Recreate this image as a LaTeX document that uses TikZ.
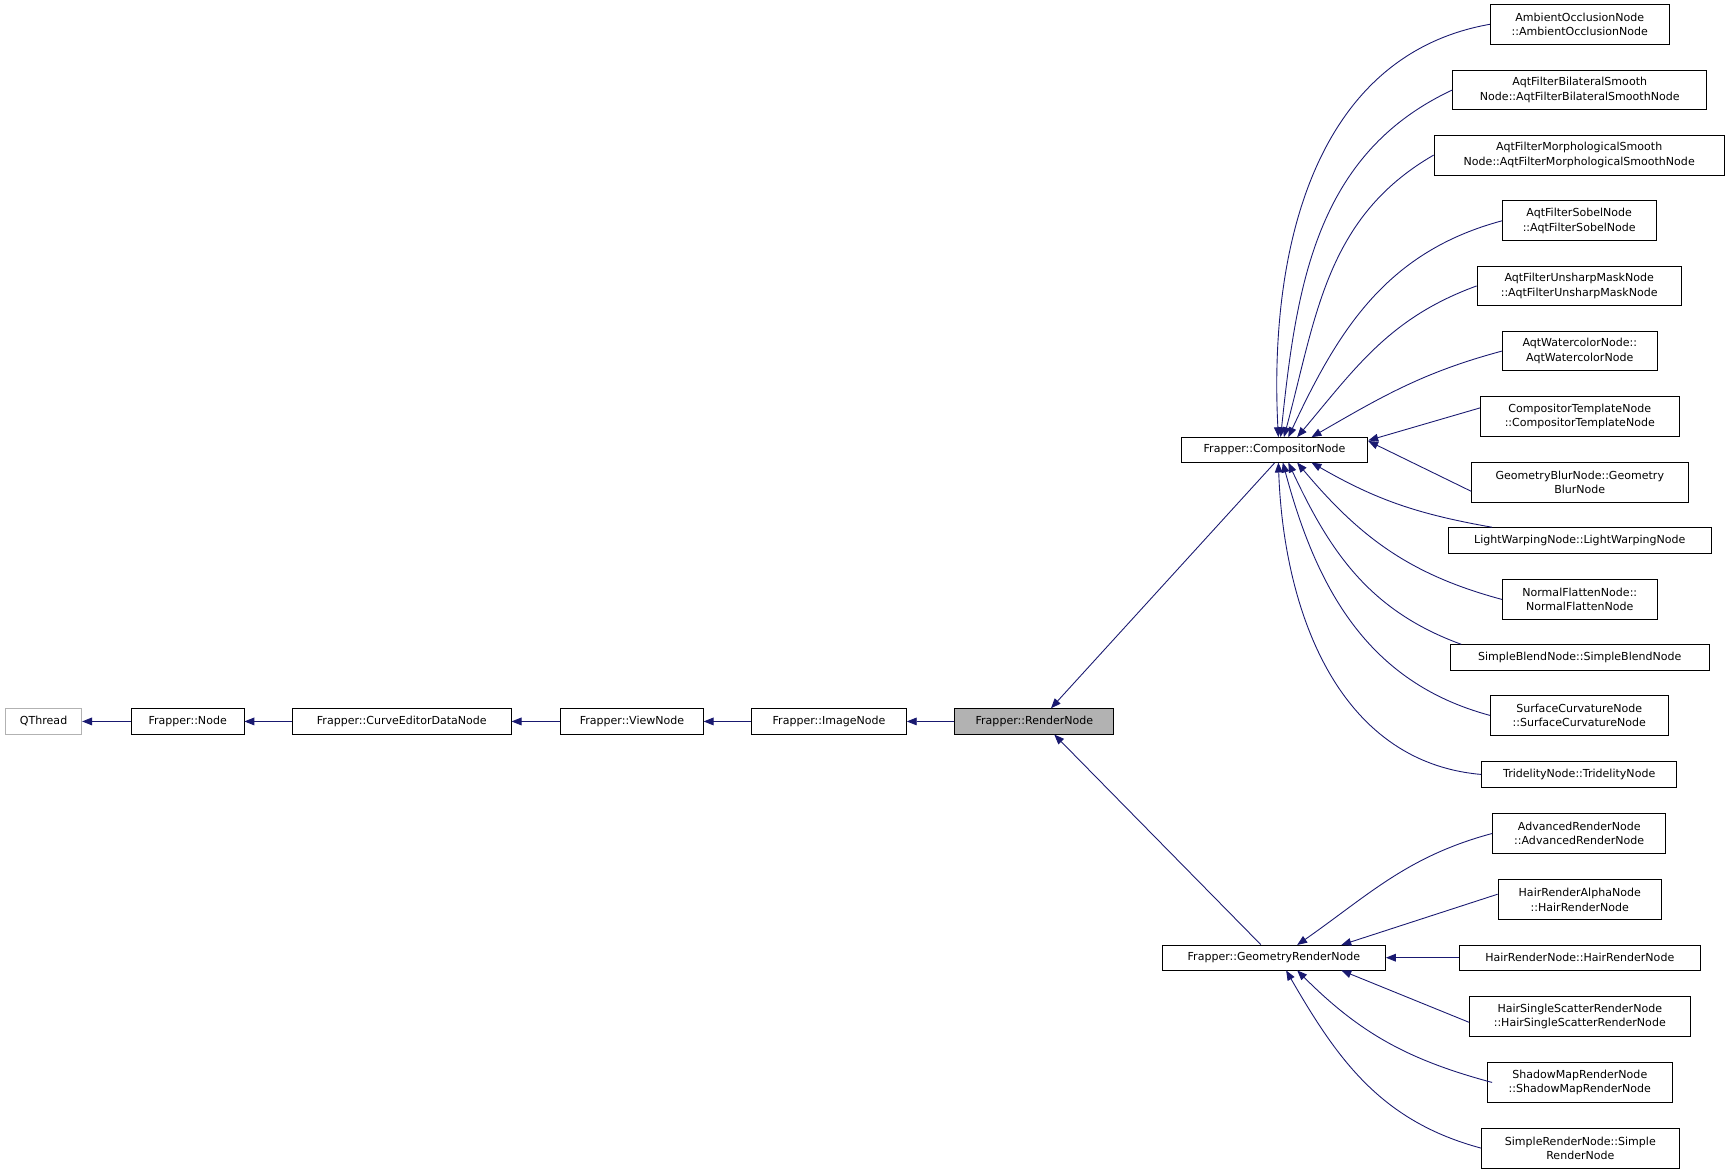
\documentclass[tikz,border=0pt]{standalone}
\usepackage{fontspec}
\setmainfont{DejaVu Sans}
\usetikzlibrary{arrows.meta}
\definecolor{edgec}{HTML}{191970}
\begin{document}
\begin{tikzpicture}[x=1pt,y=-1pt,
 box/.style={draw=black,fill=white,inner sep=0pt,align=center,font=\fontsize{10}{13}\selectfont,line width=0.8pt},
 edge/.style={draw=edgec,line width=0.8pt,{Triangle[length=9,width=7]}-}]
\useasboundingbox (0,0) rectangle (1568,1062);
\newcommand\bx[6]{\node[box,minimum width=#4,minimum height=#5] (#1) at (#2,#3) {#6};}
\node[box,draw=gray!60,minimum width=69,minimum height=23] (qt) at (39.5,653.5) {QThread};
\bx{nd}{170}{653.5}{102}{23}{Frapper::Node}
\bx{ce}{364}{653.5}{198}{23}{Frapper::CurveEditorDataNode}
\bx{vw}{572.5}{653.5}{129}{23}{Frapper::ViewNode}
\bx{im}{751}{653.5}{140}{23}{Frapper::ImageNode}
\node[box,fill=gray!60,minimum width=144,minimum height=23] (rn) at (937,653.5) {Frapper::RenderNode};
\bx{cp}{1154.5}{407.5}{169}{23}{Frapper::CompositorNode}
\bx{gr}{1154}{867.5}{202}{23}{Frapper::GeometryRenderNode}
\bx{a1}{1431}{22}{162}{36}{AmbientOcclusionNode\\::AmbientOcclusionNode}
\bx{a2}{1431}{81.5}{230}{36}{AqtFilterBilateralSmooth\\Node::AqtFilterBilateralSmoothNode}
\bx{a3}{1430.5}{140.5}{263}{36}{AqtFilterMorphologicalSmooth\\Node::AqtFilterMorphologicalSmoothNode}
\bx{a4}{1430.5}{200}{139}{36}{AqtFilterSobelNode\\::AqtFilterSobelNode}
\bx{a5}{1430.5}{259}{185}{36}{AqtFilterUnsharpMaskNode\\::AqtFilterUnsharpMaskNode}
\bx{a6}{1431}{318}{140}{36}{AqtWatercolorNode::\\AqtWatercolorNode}
\bx{a7}{1431}{377.5}{180}{36}{CompositorTemplateNode\\::CompositorTemplateNode}
\bx{a8}{1431}{437}{196}{36}{GeometryBlurNode::Geometry\\BlurNode}
\bx{a9}{1431}{489.5}{238}{23}{LightWarpingNode::LightWarpingNode}
\bx{a10}{1431}{543}{140}{36}{NormalFlattenNode::\\NormalFlattenNode}
\bx{a11}{1431}{595.5}{234}{23}{SimpleBlendNode::SimpleBlendNode}
\bx{a12}{1430.5}{648}{161}{36}{SurfaceCurvatureNode\\::SurfaceCurvatureNode}
\bx{a13}{1430.5}{701.5}{177}{23}{TridelityNode::TridelityNode}
\bx{b1}{1430.5}{755}{157}{36}{AdvancedRenderNode\\::AdvancedRenderNode}
\bx{b2}{1431}{815}{148}{36}{HairRenderAlphaNode\\::HairRenderNode}
\bx{b3}{1431}{867.5}{218}{23}{HairRenderNode::HairRenderNode}
\bx{b4}{1431}{921}{200}{36}{HairSingleScatterRenderNode\\::HairSingleScatterRenderNode}
\bx{b5}{1431}{980.5}{168}{36}{ShadowMapRenderNode\\::ShadowMapRenderNode}
\bx{b6}{1431.5}{1040}{179}{36}{SimpleRenderNode::Simple\\RenderNode}
% chain
\draw[edge] (qt) -- (nd);
\draw[edge] (nd) -- (ce);
\draw[edge] (ce) -- (vw);
\draw[edge] (vw) -- (im);
\draw[edge] (im) -- (rn);
\draw[edge] (rn.north)++(15,0) coordinate (r1) (r1) -- (cp.south);
\draw[edge] (rn.south)++(18,0) coordinate (r2) (r2) -- ([xshift=-12]gr.north);
% compositor children
\coordinate (c1) at (1158,396); \coordinate (c2) at (1160,396); \coordinate (c3) at (1163,396);
\coordinate (c4) at (1167,396); \coordinate (c5) at (1175,396); \coordinate (c6) at (1188,396);
\draw[edge] (c1) to[out=93,in=190] (a1.west);
\draw[edge] (c2) to[out=84,in=205] (a2.west);
\draw[edge] (c3) to[out=75,in=210] (a3.west);
\draw[edge] (c4) to[out=65,in=195] (a4.west);
\draw[edge] (c5) to[out=50,in=200] (a5.west);
\draw[edge] (c6) to[out=30,in=195] (a6.west);
\draw[edge] (cp.east|-c6) ++(0,3) coordinate (c7) (c7) -- ([yshift=8]a7.west);
\draw[edge] ([yshift=8]cp.east) -- ([yshift=-8]a8.west);
\coordinate (d1) at (1188,419); \coordinate (d2) at (1175,419); \coordinate (d3) at (1167,419);
\coordinate (d4) at (1162,419); \coordinate (d5) at (1158,419);
\draw[edge] (d1) to[out=-30,in=170] ([xshift=40]a9.north west);
\draw[edge] (d2) to[out=-50,in=165] (a10.west);
\draw[edge] (d3) to[out=-65,in=160] ([xshift=10]a11.north west);
\draw[edge] (d4) to[out=-75,in=165] (a12.west);
\draw[edge] (d5) to[out=-88,in=175] (a13.west);
% geometry children
\draw[edge] (1175,856) to[out=35,in=195] (b1.west);
\draw[edge] (1215,856) -- ([yshift=5]b2.west);
\draw[edge] (gr.east) -- (b3.west);
\draw[edge] (1215,879) -- ([yshift=-5]b4.west);
\draw[edge] (1175,879) to[out=-45,in=165] ([xshift=5]b5.west);
\draw[edge] (1165,879) to[out=-60,in=165] (b6.west);
\end{tikzpicture}
\end{document}
